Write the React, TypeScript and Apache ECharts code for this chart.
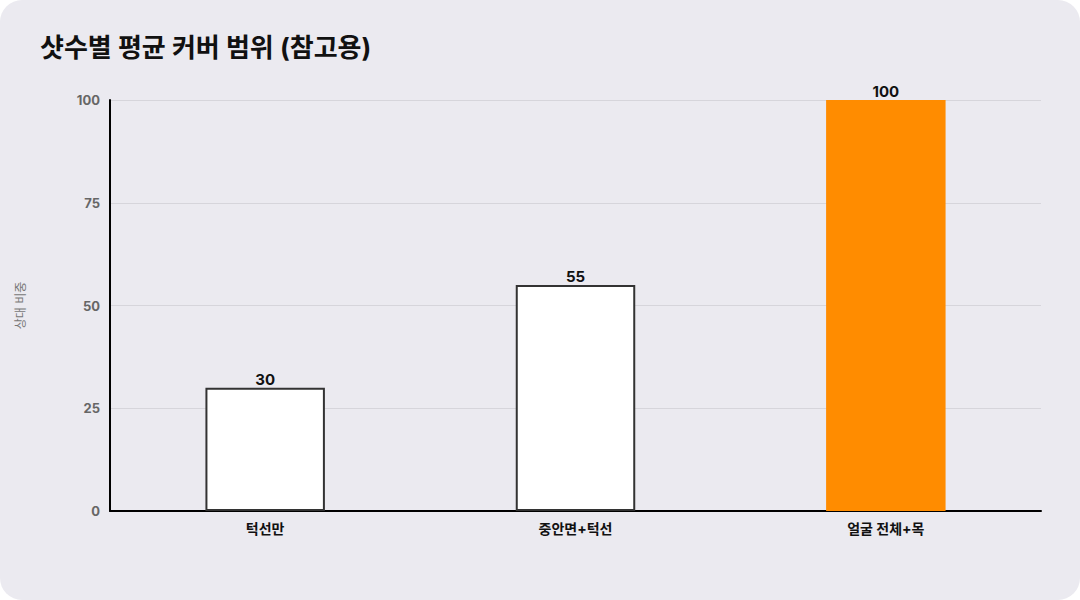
import React, { useEffect, useRef } from "react";
import * as echarts from "echarts";

const categories = ["턱선만", "중안면+턱선", "얼굴 전체+목"];
const values = [30, 55, 100];
const barColors = ["#ffffff", "#ffffff", "#ff8c00"];
const borderColors = ["#333333", "#333333", "#ff8c00"];
const yTicks = [0, 25, 50, 75, 100];

const FONT = "Inter, 'Noto Sans CJK KR', 'Noto Sans', sans-serif";

export default function App() {
  const ref = useRef<HTMLDivElement>(null);
  useEffect(() => {
    document.body.style.margin = "0";
    const chart = echarts.init(ref.current!, null, { renderer: "svg" });
    chart.setOption({
      animation: false,
      backgroundColor: "transparent",
      textStyle: { fontFamily: FONT },
      title: {
        text: "샷수별 평균 커버 범위 (참고용)",
        left: 35,
        top: 29,
        textStyle: { fontSize: 26, fontWeight: "bold", color: "#111111", fontFamily: FONT },
      },
      grid: { left: 110, right: 39, top: 100, bottom: 89, containLabel: false },
      xAxis: {
        type: "category",
        data: categories,
        axisLine: { show: true, lineStyle: { color: "#000000", width: 2 } },
        axisTick: { show: false },
        axisLabel: { color: "#111111", fontSize: 14, fontWeight: "bold", margin: 10, fontFamily: FONT },
      },
      yAxis: {
        type: "value",
        min: yTicks[0],
        max: yTicks[yTicks.length - 1],
        interval: 25,
        name: "상대 비중",
        nameLocation: "middle",
        nameGap: 84,
        nameRotate: 90,
        nameTextStyle: { color: "#777777", fontSize: 12, fontFamily: FONT },
        axisLine: { show: true, lineStyle: { color: "#000000", width: 2 } },
        axisTick: { show: false },
        axisLabel: { color: "#666666", fontSize: 13, fontWeight: "bold", margin: 10, fontFamily: FONT },
        splitLine: { show: true, lineStyle: { color: "#d6d5db", width: 1 } },
      },
      series: [
        {
          type: "bar",
          barWidth: "38.5%",
          data: values.map((v, i) => ({
            value: v,
            itemStyle: { color: barColors[i], borderColor: borderColors[i], borderWidth: i < 2 ? 2 : 0 },
          })),
          label: {
            show: true,
            position: "top",
            distance: 1,
            color: "#111111",
            fontSize: 15,
            fontWeight: "bold",
            fontFamily: FONT,
          },
        },
      ],
    });
    return () => chart.dispose();
  }, []);
  return (
    <div
      style={{
        width: 1080,
        height: 600,
        background: "#ebeaf0",
        borderRadius: 22,
        overflow: "hidden",
      }}
    >
      <div ref={ref} style={{ width: 1080, height: 600 }} />
    </div>
  );
}
